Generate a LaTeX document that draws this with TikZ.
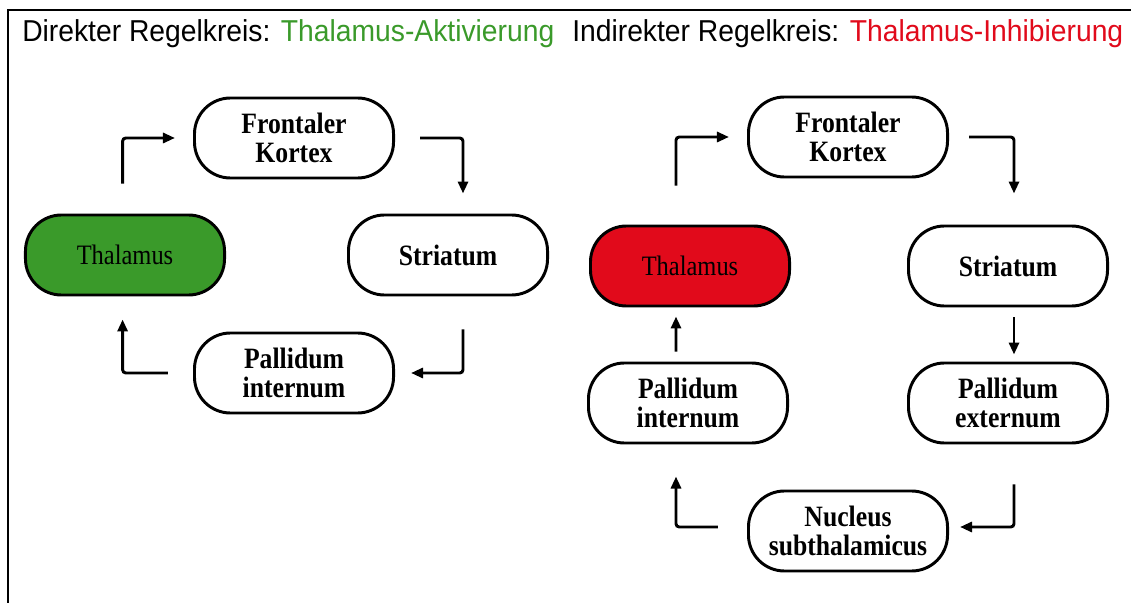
\documentclass[tikz,border=0pt]{standalone}
\usepackage{fontspec}
\setmainfont{Liberation Serif}
\newfontfamily\headfont[FakeStretch=0.935]{Liberation Sans}
\newfontfamily\boxfont[FakeStretch=0.87]{Liberation Serif}
\usepackage{tikz}
\usetikzlibrary{arrows.meta,calc}
\definecolor{aktiv}{HTML}{3A9A2A}
\definecolor{inhib}{HTML}{E10A1B}

\begin{document}
\begin{tikzpicture}[
  x=0.025cm, y=-0.025cm,
  head/.style={font=\headfont\fontsize{21.5}{24}\selectfont, inner sep=0pt},
  box/.style={draw, line width=2.1pt, rounded corners=0.9cm, minimum width=4.975cm, minimum height=2cm, align=center, inner sep=0pt, font=\boxfont\fontsize{21}{20.5}\selectfont\bfseries},
  thal/.style={box, font=\boxfont\fontsize{20}{22}\selectfont},
  conn/.style={line width=2.1pt, rounded corners=0.08cm, -{Triangle[length=0.3cm,width=0.25cm]}}
]
\useasboundingbox (0,0) rectangle (1131,603);
\draw[line width=2.1pt] (8,603) |- (1131,10);

% ---- Titles ----
\node[head, anchor=base west] (title1) at (22,42) {Direkter Regelkreis: \textcolor{aktiv}{Thalamus-Aktivierung}};
\node[head, anchor=base west] (title2) at (572,42) {Indirekter Regelkreis: \textcolor{inhib}{Thalamus-Inhibierung}};

% ---- Direct loop ----
\node[box] (fk1) at (294,138) {Frontaler\\Kortex};
\node[thal, fill=aktiv] (thal1) at (125,255) {Thalamus};
\node[box] (str1) at (448,255) {Striatum};
\node[box] (pi1) at (294,373) {Pallidum\\internum};

\draw[conn, shorten <=0.75cm, shorten >=0.45cm] ([xshift=-0.06cm]thal1.north) |- (fk1.west);
\draw[conn, shorten <=0.625cm, shorten >=0.5cm] (fk1.east) -| ([xshift=0.375cm]str1.north);
\draw[conn, shorten <=0.825cm, shorten >=0.4cm] ([xshift=0.375cm]str1.south) |- (pi1.east);
\draw[conn, shorten <=0.625cm, shorten >=0.575cm] (pi1.west) -| ([xshift=-0.06cm]thal1.south);

% ---- Indirect loop ----
\node[box] (fk2) at (848,137) {Frontaler\\Kortex};
\node[thal, fill=inhib] (thal2) at (690,266) {Thalamus};
\node[box] (str2) at (1008,266) {Striatum};
\node[box] (pi2) at (688,403) {Pallidum\\internum};
\node[box] (pe2) at (1008,403) {Pallidum\\externum};
\node[box] (nst2) at (848,531) {Nucleus\\subthalamicus};

\draw[conn, shorten <=0.975cm, shorten >=0.45cm] ([xshift=-0.35cm]thal2.north) |- (fk2.west);
\draw[conn, shorten <=0.5cm, shorten >=0.775cm] (fk2.east) -| ([xshift=0.15cm]str2.north);
\draw[conn, shorten <=0.25cm, shorten >=0.175cm] ([xshift=0.15cm]str2.south) -- ([xshift=0.15cm]pe2.north);
\draw[conn, shorten <=0.25cm, shorten >=0.225cm] ([xshift=-0.3cm]pi2.north) -- ([xshift=-0.35cm]thal2.south);
\draw[conn, shorten <=1cm, shorten >=0.275cm] ([xshift=0.15cm]pe2.south) |- ([yshift=0.1cm]nst2.east);
\draw[conn, shorten <=0.725cm, shorten >=0.8cm] ([yshift=0.1cm]nst2.west) -| ([xshift=-0.3cm]pi2.south);

\end{tikzpicture}
\end{document}
